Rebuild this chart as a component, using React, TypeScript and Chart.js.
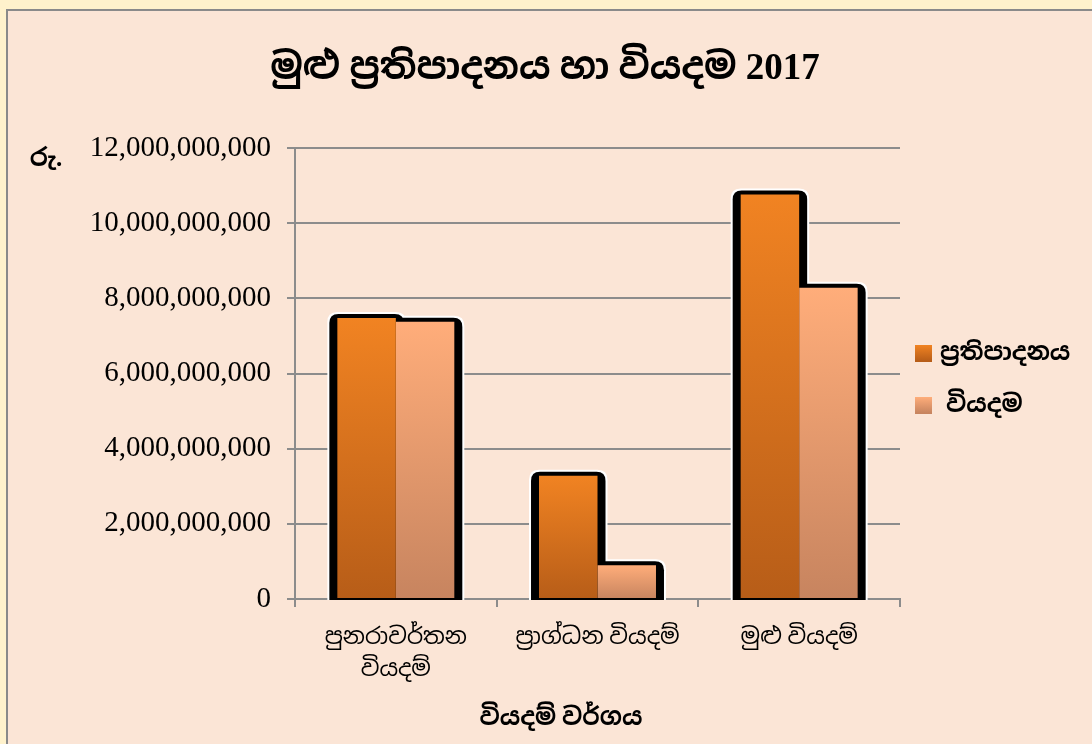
import React, { useEffect, useRef } from "react";
import { Chart, registerables } from "chart.js";

Chart.register(...registerables);

const chartTitle = "මුළු ප්‍රතිපාදනය හා වියදම 2017";
const yUnitLabel = "රු.";
const xAxisTitle = "වියදම් වර්ගය";
const categories: (string | string[])[] = [
  ["පුනරාවර්තන", "වියදම්"],
  "ප්‍රාග්ධන වියදම්",
  "මුළු වියදම්",
];
const seriesNames = ["ප්‍රතිපාදනය", " වියදම"];
const allocationValues = [7480000000, 3280000000, 10760000000];
const expenditureValues = [7380000000, 900000000, 8280000000];
const yTickValues = [0, 2000000000, 4000000000, 6000000000, 8000000000, 10000000000, 12000000000];
const seriesGradients = [
  ["#F18322", "#B75D18"],
  ["#FFAD7A", "#C7845F"],
];

const SERIF = '"Liberation Serif", "Times New Roman", "Iskoola Pota", "Noto Sans Sinhala", serif';

function roundTopRect(ctx: CanvasRenderingContext2D, x: number, y: number, w: number, h: number, r: number) {
  ctx.beginPath();
  ctx.moveTo(x, y + h);
  ctx.lineTo(x, y + r);
  ctx.quadraticCurveTo(x, y, x + r, y);
  ctx.lineTo(x + w - r, y);
  ctx.quadraticCurveTo(x + w, y, x + w, y + r);
  ctx.lineTo(x + w, y + h);
  ctx.closePath();
  ctx.fill();
}

const shadowPlugin = {
  id: "barShadow",
  beforeDatasetsDraw(chart: any) {
    const ctx: CanvasRenderingContext2D = chart.ctx;
    const bars: any[] = [];
    chart.data.datasets.forEach((_: any, i: number) => {
      chart.getDatasetMeta(i).data.forEach((b: any) => bars.push(b.getProps(["x", "y", "base", "width"], true)));
    });
    ctx.save();
    ctx.fillStyle = "#ffffff";
    bars.forEach((b) => {
      const l = b.x - b.width / 2;
      roundTopRect(ctx, l - 10, b.y - 6, b.width + 20, b.base - b.y + 8, 10);
    });
    ctx.fillStyle = "#000000";
    bars.forEach((b) => {
      const l = b.x - b.width / 2;
      roundTopRect(ctx, l - 8, b.y - 4, b.width + 16, b.base - b.y + 6, 9);
    });
    ctx.restore();
  },
};

const textPlugin = {
  id: "texts",
  afterDraw(chart: any) {
    const ctx: CanvasRenderingContext2D = chart.ctx;
    ctx.save();
    ctx.fillStyle = "#000";
    ctx.textBaseline = "middle";
    ctx.textAlign = "center";
    ctx.font = `bold 37px ${SERIF}`;
    ctx.fillText(chartTitle, 545, 69);
    ctx.font = `bold 25px ${SERIF}`;
    ctx.fillText(yUnitLabel, 46, 160);
    ctx.font = `bold 24px ${SERIF}`;
    ctx.fillText(xAxisTitle, 561, 719);
    // legend
    ctx.textAlign = "left";
    const legendY = [353, 405];
    seriesNames.forEach((name, i) => {
      const y = legendY[i];
      const g = ctx.createLinearGradient(0, y - 8, 0, y + 8);
      g.addColorStop(0, seriesGradients[i][0]);
      g.addColorStop(1, seriesGradients[i][1]);
      ctx.fillStyle = g;
      ctx.fillRect(915, y - 8, 17, 17);
      ctx.fillStyle = "#000";
      ctx.font = `bold 24px ${SERIF}`;
      ctx.fillText(name, 940, y + 1);
    });
    ctx.restore();
  },
};

function barGradient(seriesIndex: number) {
  return (c: any) => {
    const chart = c.chart;
    const y = chart.scales?.y;
    if (!y || c.raw == null) return seriesGradients[seriesIndex][0];
    const top = y.getPixelForValue(c.raw);
    const base = y.getPixelForValue(0);
    if (!isFinite(top) || !isFinite(base) || base - top < 1) return seriesGradients[seriesIndex][0];
    const g = chart.ctx.createLinearGradient(0, top, 0, base);
    g.addColorStop(0, seriesGradients[seriesIndex][0]);
    g.addColorStop(1, seriesGradients[seriesIndex][1]);
    return g;
  };
}

export default function App() {
  const ref = useRef<HTMLCanvasElement | null>(null);
  useEffect(() => {
    if (!ref.current) return;
    const chart = new Chart(ref.current, {
      type: "bar",
      data: {
        labels: categories,
        datasets: [
          { label: seriesNames[0], data: allocationValues, backgroundColor: barGradient(0), borderWidth: 0, categoryPercentage: 0.58, barPercentage: 1 },
          { label: seriesNames[1], data: expenditureValues, backgroundColor: barGradient(1), borderWidth: 0, categoryPercentage: 0.58, barPercentage: 1 },
        ],
      },
      options: {
        animation: false,
        responsive: false,
        maintainAspectRatio: false,
        layout: { padding: { left: 0, top: 148, right: 192, bottom: 0 } },
        plugins: { legend: { display: false }, title: { display: false }, tooltip: { enabled: false } },
        scales: {
          x: {
            grid: { display: true, drawOnChartArea: false, drawTicks: true, tickLength: 8, color: "#8c8c8c", lineWidth: 2, offset: true },
            border: { color: "#8c8c8c", width: 2 },
            ticks: { color: "#000", font: { family: SERIF, size: 23, lineHeight: 1.4 }, padding: 15, maxRotation: 0, autoSkip: false },
            afterFit: (s: any) => { s.height = 145; },
          },
          y: {
            min: 0,
            max: 12000000000,
            afterBuildTicks: (s: any) => { s.ticks = yTickValues.map((v) => ({ value: v })); },
            ticks: {
              color: "#000",
              font: { family: SERIF, size: 29 },
              padding: 16,
              callback: (v: any) => Number(v).toLocaleString("en-US"),
            },
            grid: { color: "#8c8c8c", lineWidth: 2, tickLength: 8 },
            border: { color: "#8c8c8c", width: 2 },
            afterFit: (s: any) => { s.width = 295; },
          },
        },
      } as any,
      plugins: [shadowPlugin, textPlugin],
    });
    return () => chart.destroy();
  }, []);

  return (
    <div style={{ position: "fixed", left: 0, top: 0, width: 1092, height: 744, background: "#FFF2CC", overflow: "hidden" }}>
      <div style={{ position: "absolute", left: 6, top: 9, width: 1092, height: 744, boxSizing: "border-box", border: "2px solid #8a8a8a", background: "#FBE5D6" }} />
      <canvas ref={ref} width={1092} height={744} style={{ position: "absolute", left: 0, top: 0, width: 1092, height: 744 }} />
    </div>
  );
}
